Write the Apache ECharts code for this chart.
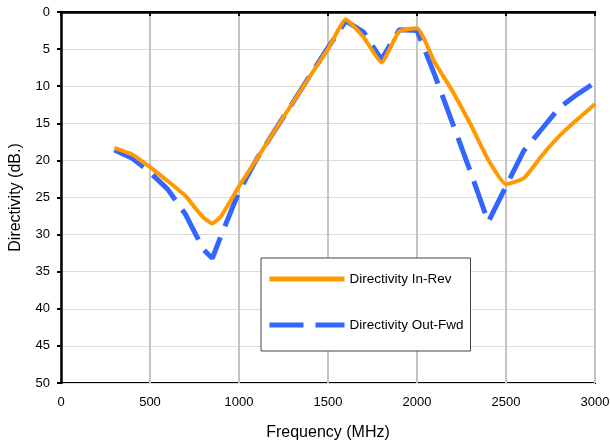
<!DOCTYPE html>
<html><head><meta charset="utf-8">
<script src="https://cdn.jsdelivr.net/npm/echarts@6/dist/echarts.min.js"></script>
<style>html,body{margin:0;padding:0;background:#fff}#c{width:610px;height:443px}</style>
</head><body><div id="c"></div>
<script>
const inRevFreq = [300,400,500,600,700,750,800,850,900,1000,1100,1200,1300,1400,1500,1600,1700,1800,1900,2000,2100,2200,2300,2400,2500,2600,2700,2800,2900,3000];
const inRevVal  = [18.3,19.2,20.9,22.8,24.8,26.3,27.7,28.5,27.5,23.5,19.8,16.0,12.3,8.6,5.0,1.0,3.4,6.8,2.6,2.2,6.8,10.7,15.1,19.9,23.2,22.4,19.4,16.7,14.5,12.4];
const outFwdFreq = [300,400,500,600,700,800,850,900,1000,1100,1200,1300,1400,1500,1600,1700,1800,1900,2000,2100,2200,2300,2400,2500,2600,2700,2800,2900,3000];
const outFwdVal  = [18.6,19.7,21.6,23.9,27.3,32.0,33.2,30.1,24.2,19.8,16.0,12.3,8.5,4.8,1.2,2.7,6.4,2.4,2.5,8.5,15.0,21.5,28.3,23.5,18.7,15.8,12.9,11.1,9.5];
const seriesNames = ['Directivity In-Rev','Directivity Out-Fwd'];

const pair = (xs, ys) => xs.map((x, i) => [x, ys[i]]);
const chart = echarts.init(document.getElementById('c'));
const font = 'Liberation Sans, Arial, sans-serif';
chart.setOption({
  animation: false,
  grid: {left: 61, right: 15, top: 12, bottom: 60, show: true, borderColor: '#000', borderWidth: 2,
         containLabel: false, outerBoundsMode: 'none'},
  legend: {
    orient: 'vertical', left: 261, top: 258,
    backgroundColor: '#fff', borderColor: '#444', borderWidth: 1,
    padding: [14, 7, 19, 6], itemWidth: 75, itemHeight: 14, itemGap: 32,
    itemStyle: {opacity: 0},
    lineStyle: {width: 5},
    textStyle: {fontFamily: font, fontSize: 13.5, color: '#000'},
    data: seriesNames
  },
  xAxis: {
    type: 'value', min: 0, max: 3000, interval: 500,
    name: 'Frequency (MHz)', nameLocation: 'middle', nameGap: 42,
    nameTextStyle: {fontFamily: font, fontSize: 16, color: '#000'},
    axisLine: {lineStyle: {color: '#000', width: 2.5}},
    axisTick: {show: true, length: 4, lineStyle: {color: '#000', width: 2}},
    axisLabel: {fontFamily: font, fontSize: 13, color: '#000', margin: 13, formatter: v => String(v)},
    splitLine: {show: true, lineStyle: {color: '#c4c4c4', width: 2}}
  },
  yAxis: {
    type: 'value', min: 0, max: 50, interval: 5, inverse: true,
    name: 'Directivity (dB.)', nameLocation: 'middle', nameGap: 37,
    nameTextStyle: {fontFamily: font, fontSize: 16, color: '#000'},
    axisLine: {show: true, lineStyle: {color: '#000', width: 2.5}},
    axisTick: {show: true, length: 4, lineStyle: {color: '#000', width: 2}},
    axisLabel: {fontFamily: font, fontSize: 13, color: '#000', margin: 11, formatter: v => String(v)},
    splitLine: {show: true, lineStyle: {color: '#dcdcdc', width: 1}}
  },
  series: [
    {name: seriesNames[0], type: 'line', data: pair(inRevFreq, inRevVal), symbol: 'none',
     smooth: 0.15, z: 3,
     lineStyle: {color: '#FF9900', width: 4}, itemStyle: {color: '#FF9900'}},
    {name: seriesNames[1], type: 'line', data: pair(outFwdFreq, outFwdVal), symbol: 'none',
     z: 2,
     lineStyle: {color: '#3366FF', width: 5, type: [34, 12]}, itemStyle: {color: '#3366FF'}}
  ]
});
</script></body></html>
